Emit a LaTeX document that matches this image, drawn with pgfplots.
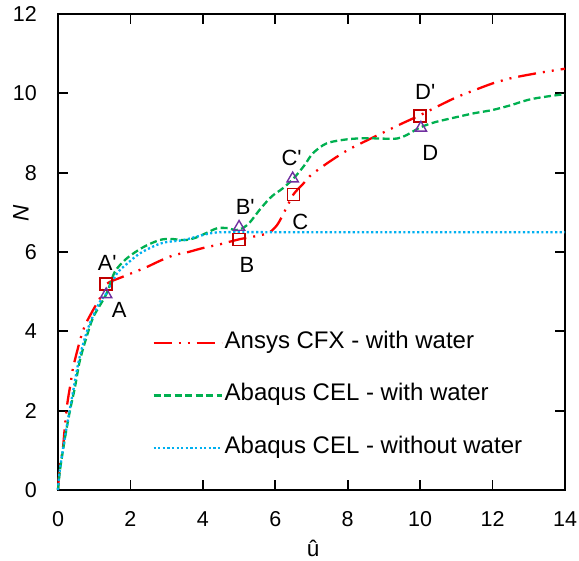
\documentclass[border=0pt]{standalone}
\usepackage{fontspec}
\setmainfont{Liberation Sans}
\usepackage{pgfplots}
\pgfplotsset{compat=1.18}
\definecolor{cfxred}{RGB}{255,0,0}
\definecolor{celgreen}{RGB}{0,176,80}
\definecolor{celblue}{RGB}{0,176,240}
\definecolor{sqred}{RGB}{192,0,0}
\definecolor{tripurple}{RGB}{112,48,160}
\newcommand{\q}{\textquotesingle}

\begin{document}
\begin{tikzpicture}
\begin{axis}[
  scale only axis, width=507pt, height=476pt,
  xmin=0, xmax=14, ymin=0, ymax=12,
  xtick={0,2,...,14}, ytick={0,2,...,12},
  tick style={black, line width=1.7pt},
  major tick length=10pt,
  axis line style={black, line width=1.8pt},
  clip=false,
  tick label style={font=\fontsize{21.5}{25}\selectfont},
  xticklabel style={inner sep=0pt, anchor=north, yshift=-21pt},
  yticklabel style={inner sep=0pt, anchor=east, xshift=-21pt},
  xlabel={û}, ylabel={\textit{N}},
  label style={font=\fontsize{22.5}{26}\selectfont},
  xlabel style={at={(axis description cs:0.503,-0.122)}, anchor=center},
  ylabel style={at={(axis description cs:-0.073,0.582)}, anchor=center},
  legend cell align=left,
  legend image code/.code={\draw[#1] (0pt,0pt) -- (68pt,0pt);},
  legend style={draw=none, fill=none, inner sep=0pt, row sep=27.5pt,
    at={(axis cs:2.6,4.03)}, anchor=north west,
    font=\fontsize{24}{28}\selectfont,
    nodes={inner sep=2pt, text height=16pt, text depth=5pt}},
  /pgf/number format/assume math mode=true,
]
\addplot[cfxred, line width=2.3pt, smooth, tension=0.4,
  dash pattern=on 18pt off 7pt on 2pt off 7pt on 2pt off 7pt] coordinates {
  (0,0) (0.05,0.6) (0.13,1.0) (0.19,1.6) (0.26,2.2) (0.35,2.7) (0.42,3.1)
  (0.61,3.78) (0.75,4.16) (0.97,4.54) (1.16,4.84) (1.33,5.19) (1.8,5.38)
  (2.4,5.6) (2.82,5.78) (3.2,5.92) (3.6,6.0) (4.0,6.1) (4.5,6.2) (5.0,6.32)
  (5.58,6.42) (5.85,6.5) (6.05,6.68) (6.2,6.92) (6.5,7.45) (6.8,7.75)
  (7.0,7.95) (7.5,8.28) (8.0,8.57) (8.5,8.8) (9.0,9.02) (9.5,9.24)
  (10.0,9.45) (10.5,9.68) (11.0,9.9) (11.5,10.08) (12.0,10.25) (12.5,10.38)
  (13.0,10.47) (13.5,10.55) (14.0,10.62)};
\addlegendentry{Ansys CFX - with water}
\addplot[celgreen, line width=2.3pt, smooth, tension=0.5,
  dash pattern=on 7pt off 3.5pt] coordinates {
  (0,0) (0.055,0.5) (0.19,1.3) (0.33,2.0) (0.47,2.6) (0.6,3.25) (0.79,3.86)
  (0.98,4.37) (1.33,4.93) (1.57,5.5) (1.9,5.84) (2.35,6.12) (2.8,6.3)
  (3.1,6.33) (3.5,6.3) (3.8,6.36) (4.1,6.48) (4.4,6.6) (4.7,6.6) (4.9,6.55)
  (5.1,6.6) (5.3,6.75) (5.6,7.1) (5.9,7.4) (6.2,7.6) (6.5,7.85) (6.8,8.18)
  (7.04,8.49) (7.42,8.74) (7.98,8.84) (8.5,8.87) (8.9,8.86) (9.36,8.86)
  (9.63,8.95) (10.0,9.14) (10.4,9.27) (11.0,9.4) (11.5,9.5) (12.0,9.58)
  (12.5,9.7) (13.0,9.84) (13.5,9.92) (14.0,9.98)};
\addlegendentry{Abaqus CEL - with water}
\addplot[celblue, line width=2.3pt, smooth, tension=0.5,
  dash pattern=on 2.2pt off 2.4pt] coordinates {
  (0,0) (0.04,0.43) (0.15,1.1) (0.29,1.85) (0.42,2.5) (0.56,3.2) (0.7,3.7)
  (0.88,4.2) (1.16,4.75) (1.33,4.95) (1.62,5.45) (1.9,5.7) (2.27,5.97)
  (2.73,6.18) (3.0,6.25) (3.46,6.3) (3.8,6.38) (4.2,6.47) (4.6,6.5)
  (6,6.5) (8,6.5) (10,6.5) (12,6.5) (14,6.5)};
\addlegendentry{Abaqus CEL - without water}
\addplot[forget plot, only marks, mark=square, mark size=6pt,
  mark options={sqred, line width=1.4pt}] coordinates {
  (1.33,5.19) (5.0,6.32) (6.5,7.45) (10.0,9.43)};
\addplot[forget plot, only marks, mark=triangle, mark size=6.5pt,
  mark options={tripurple, line width=1.4pt}] coordinates {
  (1.33,4.93) (5.0,6.63) (6.48,7.85) (10.02,9.13)};
\begin{scope}[font=\fontsize{22}{26}\selectfont]
\node at (axis cs:1.36,5.72) {A\q};
\node at (axis cs:1.69,4.54) {A};
\node at (axis cs:5.17,7.14) {B\q};
\node at (axis cs:5.22,5.67) {B};
\node at (axis cs:6.45,8.37) {C\q};
\node at (axis cs:6.69,6.76) {C};
\node at (axis cs:10.14,10.03) {D\q};
\node at (axis cs:10.28,8.49) {D};
\end{scope}
\end{axis}
\pgfresetboundingbox
\path ([shift={(-58pt,-70pt)}]current axis.south west) rectangle ([shift={(14pt,14pt)}]current axis.north east);
\end{tikzpicture}
\end{document}
